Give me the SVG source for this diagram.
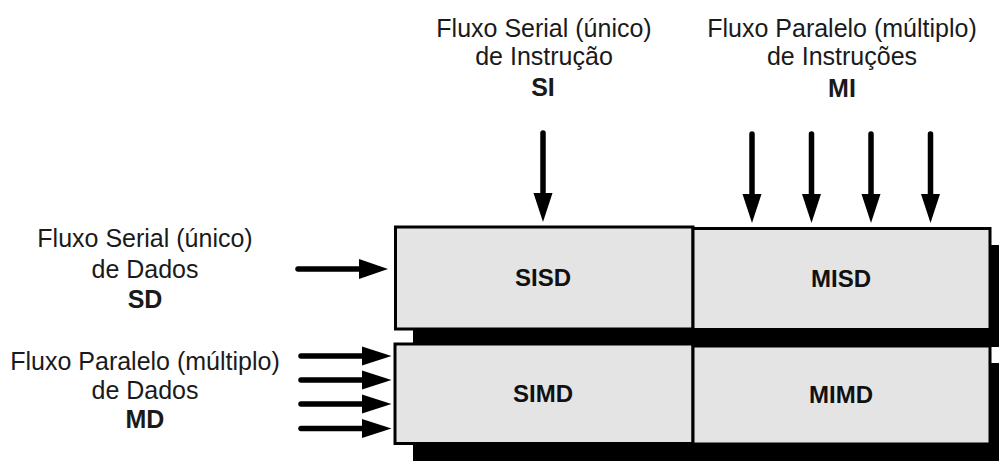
<svg xmlns="http://www.w3.org/2000/svg" width="999" height="461" viewBox="0 0 999 461">
  <style>
    .lbl { font-family: "Liberation Sans", Arial, sans-serif; font-size: 25px; fill: #1a1a1a; text-anchor: middle; }
    .b { font-weight: bold; }
    .box { fill: #e4e4e4; stroke: #000; stroke-width: 3; }
    .boxt { font-family: "Liberation Sans", Arial, sans-serif; font-size: 24px; font-weight: bold; fill: #111; text-anchor: middle; }
    .shaft { stroke: #000; stroke-width: 5.5; stroke-linecap: round; fill: none; }
    .head { fill: #000; }
    .shadow { fill: #000; }
  </style>
  <rect width="999" height="461" fill="#fff"/>

  <g id="shadows">
    <rect class="shadow" x="413" y="245" width="600" height="102"/>
    <rect class="shadow" x="413" y="363" width="600" height="100"/>
  </g>

  <g id="SISD">
    <rect class="box" x="395.5" y="227" width="297.5" height="102"/>
    <text class="boxt" x="543" y="286">SISD</text>
  </g>
  <g id="MISD">
    <rect class="box" x="693" y="228.5" width="297" height="101"/>
    <text class="boxt" x="841" y="287">MISD</text>
  </g>
  <g id="SIMD">
    <rect class="box" x="395" y="344" width="298" height="99.5"/>
    <text class="boxt" x="543" y="402">SIMD</text>
  </g>
  <g id="MIMD">
    <rect class="box" x="693" y="346" width="297" height="98"/>
    <text class="boxt" x="841" y="403">MIMD</text>
  </g>

  <g id="label-SI">
    <text class="lbl" x="544" y="37">Fluxo Serial (único)</text>
    <text class="lbl" x="544" y="65">de Instrução</text>
    <text class="lbl b" x="543" y="96">SI</text>
  </g>
  <g id="label-MI">
    <text class="lbl" x="842" y="37">Fluxo Paralelo (múltiplo)</text>
    <text class="lbl" x="842" y="65">de Instruções</text>
    <text class="lbl b" x="842" y="97">MI</text>
  </g>
  <g id="label-SD">
    <text class="lbl" x="145" y="247">Fluxo Serial (único)</text>
    <text class="lbl" x="145" y="278">de Dados</text>
    <text class="lbl b" x="145" y="308">SD</text>
  </g>
  <g id="label-MD">
    <text class="lbl" x="145" y="370">Fluxo Paralelo (múltiplo)</text>
    <text class="lbl" x="145" y="399">de Dados</text>
    <text class="lbl b" x="145" y="428">MD</text>
  </g>

  <g id="connectors">
    <!-- SI -->
    <line class="shaft" x1="543" y1="133" x2="543" y2="196"/>
    <polygon class="head" points="533.5,193 552.5,193 543,222"/>
    <!-- MI -->
    <line class="shaft" x1="752" y1="134" x2="752" y2="197"/>
    <polygon class="head" points="742.5,194 761.5,194 752,223"/>
    <line class="shaft" x1="811.5" y1="134" x2="811.5" y2="197"/>
    <polygon class="head" points="802,194 821,194 811.5,223"/>
    <line class="shaft" x1="871" y1="134" x2="871" y2="197"/>
    <polygon class="head" points="861.5,194 880.5,194 871,223"/>
    <line class="shaft" x1="930.5" y1="134" x2="930.5" y2="197"/>
    <polygon class="head" points="921,194 940,194 930.5,223"/>
    <!-- SD -->
    <line class="shaft" x1="298" y1="269" x2="362" y2="269"/>
    <polygon class="head" points="359,259 359,279 388,269"/>
    <!-- MD -->
    <line class="shaft" x1="301" y1="356" x2="365" y2="356"/>
    <polygon class="head" points="362,346.5 362,365.5 391.5,356"/>
    <line class="shaft" x1="301" y1="380" x2="365" y2="380"/>
    <polygon class="head" points="362,370.5 362,389.5 391.5,380"/>
    <line class="shaft" x1="301" y1="404" x2="365" y2="404"/>
    <polygon class="head" points="362,394.5 362,413.5 391.5,404"/>
    <line class="shaft" x1="301" y1="428.5" x2="365" y2="428.5"/>
    <polygon class="head" points="362,419 362,438 391.5,428.5"/>
  </g>
</svg>
